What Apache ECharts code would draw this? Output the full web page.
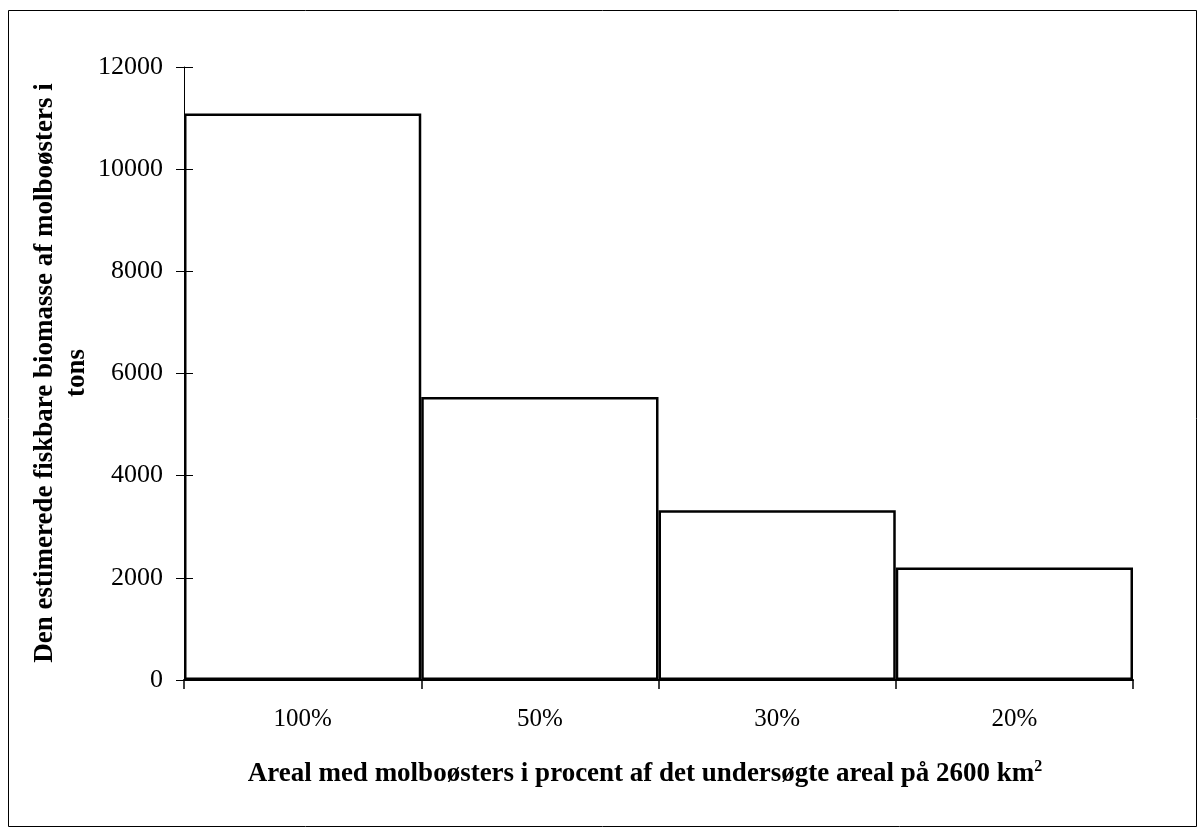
<!DOCTYPE html>
<html>
<head>
<meta charset="utf-8">
<script src="https://cdn.jsdelivr.net/npm/echarts@6/dist/echarts.min.js"></script>
<style>
html,body{margin:0;padding:0;background:#fff;}
#chart{width:1198px;height:828px;}
</style>
</head>
<body>
<div id="chart"></div>
<script>
const categories = ['100%', '50%', '30%', '20%'];
const biomass = [11090, 5540, 3325, 2200];
const yTitleLines = ['Den estimerede fiskbare biomasse af molboøsters i', 'tons'];
const xTitle = 'Areal med molboøsters i procent af det undersøgte areal på 2600 km';

const chart = echarts.init(document.getElementById('chart'));
const serif = 'Liberation Serif';
chart.setOption({
  animation: false,
  backgroundColor: '#fff',
  grid: { left: 184, right: 65, top: 67, bottom: 148 },
  xAxis: {
    type: 'category',
    data: categories,
    axisLine: { lineStyle: { color: '#000', width: 2 } },
    axisTick: { show: true, length: 9, lineStyle: { color: '#000', width: 1.5 } },
    axisLabel: { color: '#000', fontFamily: serif, fontSize: 25, margin: 27 },
    splitLine: { show: false }
  },
  yAxis: [{
    type: 'value',
    min: 0, max: 12000, interval: 2000,
    axisLine: { show: true, lineStyle: { color: '#000', width: 1 } },
    axisTick: { show: true, length: 8, lineStyle: { color: '#000', width: 1 } },
    axisLabel: { color: '#000', fontFamily: serif, fontSize: 26, margin: 21, formatter: v => String(v) },
    splitLine: { show: false }
  }, {
    type: 'value', position: 'left',
    min: 0, max: 12000, interval: 2000,
    z: 10,
    axisLine: { show: false },
    axisTick: { show: true, inside: true, length: 9, lineStyle: { color: '#000', width: 1 } },
    axisLabel: { show: false },
    splitLine: { show: false }
  }],
  series: [{
    type: 'bar',
    data: biomass,
    barCategoryGap: '0%',
    itemStyle: { color: '#fff', borderColor: '#000', borderWidth: 2.5 }
  }],
  graphic: [
    { type: 'rect', shape: { x: 8.5, y: 10.5, width: 1188, height: 816 }, style: { fill: 'none', stroke: '#000', lineWidth: 1 }, z: -1 },
    {
      type: 'text', x: 645, y: 774,
      style: {
        text: xTitle + '{sup|2}',
        rich: { sup: { fontSize: 16, fontWeight: 'bold', fontFamily: serif, verticalAlign: 'top', padding: [0, 0, 14, 0] } },
        font: 'bold 27px "Liberation Serif"',
        fill: '#000', align: 'center', verticalAlign: 'middle'
      }
    },
    {
      type: 'text', x: 61, y: 373, rotation: Math.PI / 2,
      style: {
        text: yTitleLines.join('\n'),
        font: 'bold 27px "Liberation Serif"',
        lineHeight: 32,
        fill: '#000', align: 'center', verticalAlign: 'middle'
      }
    }
  ]
});
</script>
</body>
</html>
